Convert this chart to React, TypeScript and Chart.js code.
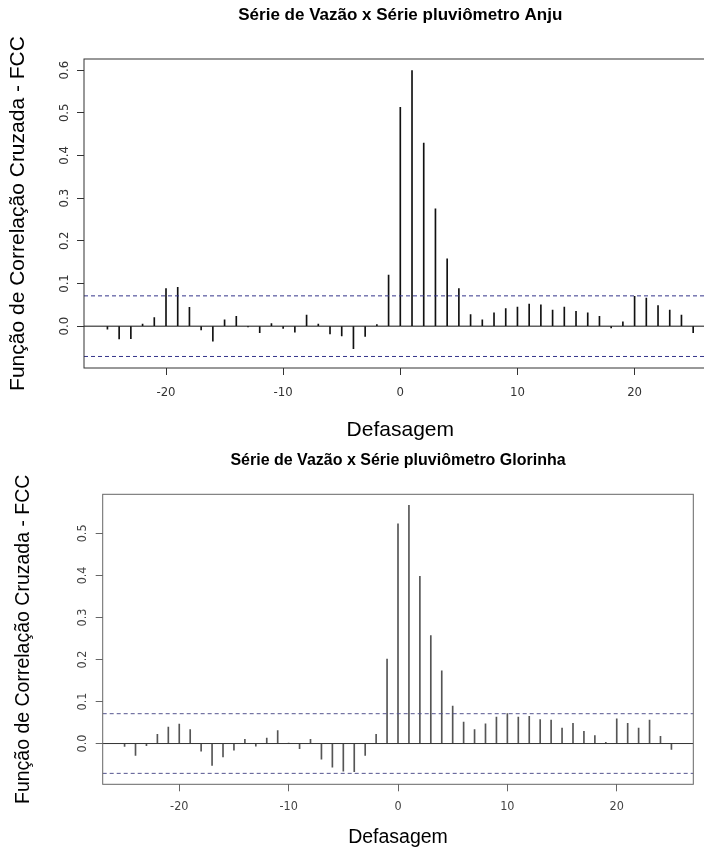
import React, { useEffect, useRef } from "react";
import { Chart, registerables } from "chart.js";

Chart.register(...registerables);

// ---------- data ----------
const LAGS = [
  -25, -24, -23, -22, -21, -20, -19, -18, -17, -16, -15, -14, -13, -12, -11, -10, -9, -8, -7, -6, -5, -4, -3, -2, -1,
  0, 1, 2, 3, 4, 5, 6, 7, 8, 9, 10, 11, 12, 13, 14, 15, 16, 17, 18, 19, 20, 21, 22, 23, 24, 25,
];

const ANJU_FCC = [
  -0.007, -0.030, -0.029, 0.005, 0.020, 0.088, 0.091, 0.044, -0.009, -0.035, 0.015, 0.023, -0.002, -0.015, 0.006,
  -0.005, -0.014, 0.026, 0.005, -0.018, -0.023, -0.053, -0.024, 0.004, 0.120,
  0.513, 0.599, 0.429, 0.275, 0.158, 0.088, 0.027, 0.015, 0.031, 0.041, 0.045, 0.052, 0.050, 0.038, 0.045, 0.035,
  0.031, 0.023, -0.004, 0.010, 0.070, 0.066, 0.048, 0.038, 0.026, -0.015,
];

const GLORINHA_FCC = [
  -0.007, -0.028, -0.005, 0.022, 0.039, 0.046, 0.033, -0.018, -0.052, -0.032, -0.016, 0.010, -0.006, 0.013, 0.031,
  0.001, -0.012, 0.010, -0.037, -0.056, -0.066, -0.067, -0.028, 0.022, 0.201,
  0.523, 0.567, 0.398, 0.257, 0.173, 0.089, 0.051, 0.033, 0.047, 0.063, 0.071, 0.063, 0.065, 0.057, 0.056, 0.037,
  0.048, 0.029, 0.019, 0.003, 0.059, 0.048, 0.037, 0.056, 0.017, -0.014,
];

const X_TICKS = [-20, -10, 0, 10, 20];
const ANJU_Y_TICKS = [0, 0.1, 0.2, 0.3, 0.4, 0.5, 0.6];
const GLORINHA_Y_TICKS = [0, 0.1, 0.2, 0.3, 0.4, 0.5];
const CI_LIMIT = 0.071;
const X_RANGE = [-27, 27];
const ANJU_Y_RANGE = [-0.098, 0.626];
const GLORINHA_Y_RANGE = [-0.097, 0.593];

const TITLE_ANJU = "Série de Vazão x Série pluviômetro Anju";
const TITLE_GLORINHA = "Série de Vazão x Série pluviômetro Glorinha";
const Y_LABEL = "Função de Correlação Cruzada - FCC";
const X_LABEL = "Defasagem";

const SANS = "'Liberation Sans', Arial, sans-serif";
const NARROW = "'Liberation Sans Narrow', 'Arial Narrow', 'DejaVu Sans Condensed', sans-serif";

type PanelCfg = {
  left: number;
  top: number;
  width: number;
  height: number;
  title: string;
  values: number[];
  yTicks: number[];
  yRange: number[];
  barColor: string;
  ciColor: string;
  frameColor: string;
  zeroColor: string;
  textColor: string;
  leftW: number;
  bottomH: number;
  padRight: number;
  titleFont: number;
  titlePad: { top: number; bottom: number };
  axisFont: number;
  yTitlePad: number;
  xTitlePad: number;
  tickFont: number;
  yTickPad: number;
  xTickPad: number;
};

const framePlugin = {
  id: "frame",
  afterDraw(chart: any, _args: any, opts: any) {
    const { ctx, chartArea } = chart;
    ctx.save();
    ctx.strokeStyle = opts.color || "#000";
    ctx.lineWidth = 1;
    ctx.strokeRect(chartArea.left, chartArea.top, chartArea.right - chartArea.left, chartArea.bottom - chartArea.top);
    ctx.restore();
  },
};

function Panel({ cfg }: { cfg: PanelCfg }) {
  const ref = useRef<HTMLCanvasElement | null>(null);
  useEffect(() => {
    if (!ref.current) return;
    const span = (y: number) => [
      { x: X_RANGE[0], y },
      { x: X_RANGE[1], y },
    ];
    const chart = new Chart(ref.current, {
      type: "bar",
      data: {
        datasets: [
          {
            type: "bar",
            data: LAGS.map((l, i) => ({ x: l, y: cfg.values[i] })),
            backgroundColor: cfg.barColor,
            borderWidth: 0,
            barThickness: 1,
            order: 2,
          } as any,
          {
            type: "line",
            data: span(0),
            borderColor: cfg.zeroColor,
            borderWidth: 1,
            pointRadius: 0,
            order: 1,
          },
          {
            type: "line",
            data: span(CI_LIMIT),
            borderColor: cfg.ciColor,
            borderWidth: 1,
            borderDash: [4, 3],
            pointRadius: 0,
            order: 1,
          },
          {
            type: "line",
            data: span(-CI_LIMIT),
            borderColor: cfg.ciColor,
            borderWidth: 1,
            borderDash: [4, 3],
            pointRadius: 0,
            order: 1,
          },
        ],
      },
      options: {
        animation: false,
        responsive: false,
        devicePixelRatio: 1,
        layout: { padding: { left: 0, right: cfg.padRight, top: 0, bottom: 0 } },
        plugins: {
          legend: { display: false },
          tooltip: { enabled: false },
          title: {
            display: true,
            text: cfg.title,
            fullSize: false,
            color: "#000",
            font: { family: SANS, size: cfg.titleFont, weight: "bold" },
            padding: cfg.titlePad,
          },
          frame: { color: cfg.frameColor },
        } as any,
        scales: {
          x: {
            type: "linear",
            min: X_RANGE[0],
            max: X_RANGE[1],
            offset: false,
            afterBuildTicks: (s: any) => {
              s.ticks = X_TICKS.map((v) => ({ value: v }));
            },
            afterFit: (s: any) => {
              s.height = cfg.bottomH;
            },
            grid: { offset: false, drawOnChartArea: false, drawTicks: true, tickLength: 7, color: cfg.frameColor },
            border: { display: false },
            ticks: {
              maxRotation: 0,
              minRotation: 0,
              padding: cfg.xTickPad,
              color: cfg.textColor,
              font: { family: NARROW, size: cfg.tickFont },
              callback: (v: any) => String(v),
            },
            title: {
              display: true,
              text: X_LABEL,
              color: "#000",
              font: { family: SANS, size: cfg.axisFont },
              padding: { top: 0, bottom: cfg.xTitlePad },
            },
          },
          y: {
            type: "linear",
            min: cfg.yRange[0],
            max: cfg.yRange[1],
            afterBuildTicks: (s: any) => {
              s.ticks = cfg.yTicks.map((v) => ({ value: v }));
            },
            afterFit: (s: any) => {
              s.width = cfg.leftW;
            },
            grid: { drawOnChartArea: false, drawTicks: true, tickLength: 7, color: cfg.frameColor },
            border: { display: false },
            ticks: {
              minRotation: 90,
              maxRotation: 90,
              crossAlign: "center",
              padding: cfg.yTickPad,
              color: cfg.textColor,
              font: { family: NARROW, size: cfg.tickFont },
              callback: (v: any) => Number(v).toFixed(1),
            },
            title: {
              display: true,
              text: Y_LABEL,
              color: "#000",
              font: { family: SANS, size: cfg.axisFont },
              padding: { top: cfg.yTitlePad, bottom: 0 },
            },
          },
        },
      } as any,
      plugins: [framePlugin],
    });
    return () => chart.destroy();
  }, [cfg]);
  return (
    <canvas
      ref={ref}
      width={cfg.width}
      height={cfg.height}
      style={{ position: "absolute", left: cfg.left, top: cfg.top, width: cfg.width, height: cfg.height }}
    />
  );
}

const TOP: PanelCfg = {
  left: 0,
  top: 0,
  width: 718,
  height: 450,
  title: TITLE_ANJU,
  values: ANJU_FCC,
  yTicks: ANJU_Y_TICKS,
  yRange: ANJU_Y_RANGE,
  barColor: "#111",
  ciColor: "#34348a",
  frameColor: "#333",
  zeroColor: "#111",
  textColor: "#333",
  leftW: 84,
  bottomH: 82,
  padRight: 1.4,
  titleFont: 17,
  titlePad: { top: 4.8, bottom: 33.8 },
  axisFont: 21,
  yTitlePad: 5.4,
  xTitlePad: 7.4,
  tickFont: 13,
  yTickPad: 3,
  xTickPad: 10,
};

const BOTTOM: PanelCfg = {
  left: 0,
  top: 440,
  width: 704,
  height: 410,
  title: TITLE_GLORINHA,
  values: GLORINHA_FCC,
  yTicks: GLORINHA_Y_TICKS,
  yRange: GLORINHA_Y_RANGE,
  barColor: "#555",
  ciColor: "#55558f",
  frameColor: "#666",
  zeroColor: "#333",
  textColor: "#444",
  leftW: 102.7,
  bottomH: 65.7,
  padRight: 10.7,
  titleFont: 16,
  titlePad: { top: 11.4, bottom: 23.7 },
  axisFont: 19.5,
  yTitlePad: 12.3,
  xTitlePad: 0.3,
  tickFont: 12.5,
  yTickPad: 4,
  xTickPad: 8,
};

export default function App() {
  return (
    <div
      style={{
        position: "absolute",
        left: 0,
        top: 0,
        width: 704,
        height: 850,
        overflow: "hidden",
        background: "#fff",
      }}
    >
      <Panel cfg={TOP} />
      <Panel cfg={BOTTOM} />
    </div>
  );
}
